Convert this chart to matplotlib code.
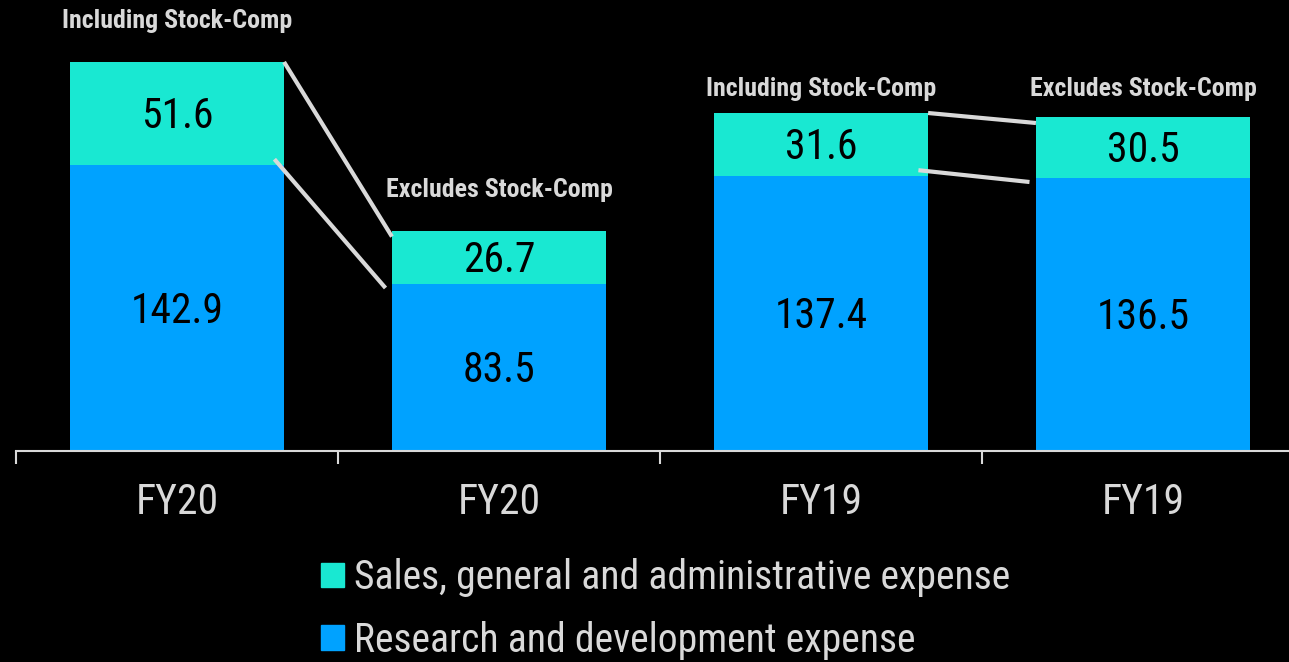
import matplotlib
matplotlib.use("Agg")
import matplotlib.pyplot as plt
from matplotlib import font_manager
from matplotlib.patches import Patch

names = {f.name for f in font_manager.fontManager.ttflist}
FONT = next((n for n in ["Liberation Sans Narrow", "Roboto Condensed", "Archivo Narrow",
                         "Fira Sans Condensed", "Liberation Sans"] if n in names), "DejaVu Sans")
BOLD_FONT = next((n for n in ["Liberation Sans Narrow", "Roboto Condensed", "Fira Sans Condensed",
                              "Liberation Sans"] if n in names), "DejaVu Sans")
plt.rcParams["font.family"] = [FONT, "DejaVu Sans"]

categories = ["FY20", "FY20", "FY19", "FY19"]
rd_values = [142.9, 83.5, 137.4, 136.5]
sga_values = [51.6, 26.7, 31.6, 30.5]
annotations = ["Including Stock-Comp", "Excludes Stock-Comp",
               "Including Stock-Comp", "Excludes Stock-Comp"]
series_names = ["Sales, general and administrative expense",
                "Research and development expense"]

TEAL = "#19E8D2"
BLUE = "#00A2FF"
GREY = "#D9D9D9"

fig = plt.figure(figsize=(12.89, 6.62), dpi=100, facecolor="black")
ax = fig.add_axes([16 / 1289, (662 - 451) / 662, 1273 / 1289, 451 / 662])
ax.set_facecolor("black")

x = list(range(len(categories)))
width = 0.665
ax.bar(x, rd_values, width, color=BLUE, zorder=2)
ax.bar(x, sga_values, width, bottom=rd_values, color=TEAL, zorder=2)

for i in x:
    ax.text(i, rd_values[i] / 2 - 1.5, f"{rd_values[i]:.1f}", ha="center", va="center",
            fontsize=30, color="black", zorder=3)
    ax.text(i, rd_values[i] + sga_values[i] / 2 - 1.5, f"{sga_values[i]:.1f}",
            ha="center", va="center", fontsize=30, color="black", zorder=3)

# annotation heights above bar tops (data units)
ann_offsets = [20.5, 20.5, 12, 14]
for i in x:
    top = rd_values[i] + sga_values[i]
    ax.text(i, top + ann_offsets[i], annotations[i], ha="center", va="center",
            fontsize=18.6, fontweight="bold", color=GREY, zorder=3,
            family=[BOLD_FONT, "DejaVu Sans"])

# connector lines between pairs
for a, b in [(0, 1), (2, 3)]:
    ta = rd_values[a] + sga_values[a]
    tb = rd_values[b] + sga_values[b]
    ax.plot([a + width / 2, b - width / 2], [ta, tb - 3], color=GREY, lw=3,
            solid_capstyle="butt", zorder=4, clip_on=False)
    ax.plot([a + width / 2 - 0.03, b - width / 2 - 0.02], [rd_values[a] + 3, rd_values[b] - 2],
            color=GREY, lw=3, solid_capstyle="butt", zorder=4, clip_on=False)

ax.set_xlim(-0.5, -0.5 + 1273 / 322)
ax.set_ylim(0, 225.5)
ax.set_yticks([])
for s in ["top", "right", "left"]:
    ax.spines[s].set_visible(False)
ax.spines["bottom"].set_color(GREY)
ax.spines["bottom"].set_linewidth(1.5)

ax.set_xticks([i + 0.5 for i in [-1] + x[:-1]], minor=False)
ax.set_xticklabels([""] * 4)
ax.tick_params(axis="x", which="major", length=9, width=1.5, color=GREY)
ax.set_xticks(x, minor=True)
ax.set_xticklabels(categories, minor=True)
ax.tick_params(axis="x", which="minor", length=0, pad=22, labelsize=30, labelcolor=GREY)

handles = [Patch(color=TEAL), Patch(color=BLUE)]
fig.legend(handles, series_names, loc="upper left",
           bbox_to_anchor=(321 / 1289, 1 - 558 / 662), frameon=False,
           fontsize=28.5, labelcolor=GREY, handlelength=0.58, handleheight=0.58,
           handletextpad=0.25, labelspacing=0.6, borderpad=0, borderaxespad=0)

fig.savefig("out.png", dpi=100, facecolor="black")
